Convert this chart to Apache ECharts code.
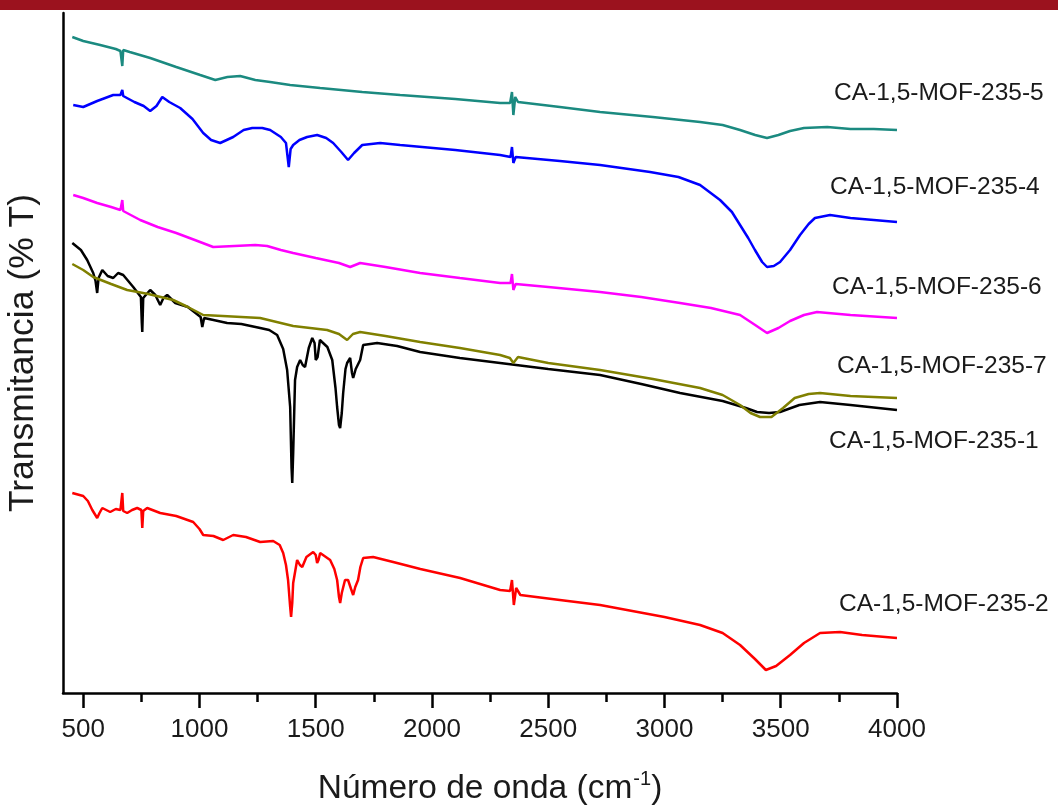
<!DOCTYPE html>
<html>
<head>
<meta charset="utf-8">
<script src="https://cdn.jsdelivr.net/npm/echarts@6/dist/echarts.min.js"></script>
<style>html,body{margin:0;padding:0;background:#fff;}#c{width:1058px;height:812px;}</style>
</head>
<body>
<div id="c"></div>
<script>
// wavenumber (cm-1), transmittance (arbitrary, offset) pairs
const s5 = [[453,65.6],[500,65.2],[573,64.8],[640,64.4],[660,64.2],[668,62.7],[672,64.3],[700,64.1],[788,63.5],[900,62.6],[1003,61.8],[1068,61.3],[1120,61.6],[1175,61.7],[1240,61.3],[1304,61.1],[1390,60.8],[1519,60.5],[1700,60.1],[1863,59.8],[2100,59.4],[2293,59.0],[2336,59.0],[2344,60.1],[2350,57.8],[2358,59.6],[2370,59.1],[2550,58.6],[2723,58.1],[2950,57.6],[3153,57.1],[3250,56.8],[3325,56.3],[3390,55.8],[3441,55.5],[3490,55.8],[3540,56.2],[3600,56.5],[3700,56.6],[3800,56.4],[3900,56.4],[4000,56.3]];
const s4 = [[457,58.8],[500,58.6],[560,59.2],[629,59.8],[660,59.8],[668,60.3],[672,59.7],[720,59.1],[760,58.7],[788,58.2],[815,58.7],[840,59.6],[870,59.1],[917,58.5],[970,57.4],[1016,56.0],[1050,55.3],[1089,55.0],[1145,55.6],[1190,56.3],[1227,56.5],[1270,56.5],[1304,56.3],[1350,55.6],[1372,55.0],[1384,52.6],[1392,54.4],[1403,54.8],[1430,55.3],[1463,55.6],[1506,55.8],[1545,55.5],[1575,55.0],[1610,54.1],[1639,53.3],[1665,54.0],[1700,54.8],[1777,55.0],[1863,54.8],[2100,54.3],[2293,53.8],[2338,53.6],[2344,54.6],[2350,53.0],[2360,53.6],[2550,53.2],[2723,52.8],[2938,52.1],[3060,51.6],[3153,50.8],[3239,49.3],[3290,48.1],[3325,46.8],[3360,45.5],[3389,44.3],[3420,43.1],[3441,42.6],[3470,42.7],[3497,43.1],[3540,44.3],[3583,45.8],[3620,46.9],[3647,47.5],[3712,47.8],[3800,47.5],[3900,47.3],[4000,47.1]];
const s6 = [[457,49.8],[500,49.5],[560,49.0],[620,48.6],[660,48.3],[668,49.3],[672,48.2],[745,47.3],[820,46.6],[900,46.0],[980,45.3],[1059,44.6],[1150,44.7],[1240,44.8],[1291,44.7],[1350,44.3],[1403,44.0],[1500,43.5],[1600,43.0],[1648,42.6],[1691,43.0],[1800,42.6],[1949,42.0],[2120,41.5],[2293,41.0],[2338,41.0],[2344,41.9],[2350,40.3],[2360,40.9],[2500,40.6],[2723,40.1],[2900,39.6],[3067,39.0],[3200,38.5],[3325,37.8],[3390,36.8],[3441,36.0],[3490,36.5],[3540,37.2],[3600,37.8],[3656,38.1],[3800,37.8],[4000,37.5]];
const s7 = [[453,42.9],[500,42.3],[543,41.6],[620,40.9],[689,40.3],[780,39.9],[887,39.3],[950,38.6],[1016,37.8],[1100,37.7],[1261,37.5],[1403,36.7],[1549,36.3],[1600,35.9],[1635,35.3],[1660,35.9],[1691,36.1],[1800,35.7],[1949,35.1],[2120,34.5],[2293,33.8],[2335,33.5],[2350,33.0],[2370,33.6],[2500,33.0],[2723,32.3],[2950,31.4],[3153,30.5],[3250,29.8],[3325,28.8],[3370,28.0],[3411,27.6],[3460,27.6],[3510,28.5],[3560,29.5],[3620,29.9],[3669,30.0],[3800,29.7],[4000,29.5]];
const s1 = [[453,45.0],[490,44.3],[517,43.3],[543,42.0],[553,41.2],[560,40.0],[566,41.5],[582,42.3],[605,41.7],[629,41.5],[650,42.0],[672,41.8],[690,41.3],[715,40.6],[748,39.6],[752,37.0],[754,36.1],[758,39.5],[788,40.3],[810,39.8],[831,38.8],[845,39.5],[861,39.8],[896,39.0],[950,38.6],[1005,37.6],[1012,36.6],[1020,37.5],[1060,37.3],[1119,37.0],[1180,36.9],[1261,36.5],[1300,36.3],[1334,35.8],[1360,34.4],[1377,32.3],[1390,28.6],[1396,22.5],[1399,21.0],[1403,24.0],[1411,31.3],[1420,32.6],[1433,33.3],[1444,32.8],[1454,32.6],[1470,34.5],[1485,35.5],[1495,35.0],[1500,33.3],[1508,33.6],[1518,35.3],[1527,35.1],[1550,34.6],[1571,33.3],[1585,30.5],[1592,28.6],[1600,26.8],[1605,26.5],[1612,28.0],[1618,30.0],[1628,32.4],[1635,33.0],[1648,33.5],[1656,32.0],[1661,31.5],[1672,32.4],[1691,33.3],[1704,34.8],[1764,35.0],[1850,34.7],[1949,34.1],[2120,33.5],[2293,33.0],[2500,32.4],[2723,31.8],[2900,30.9],[3067,30.0],[3250,29.2],[3350,28.5],[3398,28.1],[3450,28.0],[3497,28.1],[3580,28.8],[3669,29.1],[3800,28.8],[4000,28.3]];
const s2 = [[453,20.0],[500,19.7],[520,19.2],[539,18.3],[560,17.5],[570,18.0],[582,18.5],[616,18.1],[640,18.4],[660,18.3],[668,20.0],[672,18.2],[689,18.0],[710,18.3],[732,18.5],[750,18.3],[754,16.5],[758,18.2],[775,18.5],[831,18.0],[900,17.7],[973,17.1],[1000,16.4],[1016,15.8],[1060,15.7],[1102,15.3],[1145,15.8],[1200,15.6],[1261,15.1],[1317,15.2],[1345,14.8],[1360,14.0],[1372,12.8],[1381,11.3],[1390,8.6],[1394,7.6],[1399,9.0],[1403,11.0],[1420,13.3],[1432,12.8],[1442,12.6],[1460,13.6],[1489,14.1],[1500,13.8],[1506,13.0],[1512,13.3],[1519,14.0],[1562,13.3],[1580,12.4],[1592,11.3],[1600,9.6],[1605,9.0],[1612,10.0],[1626,11.3],[1639,11.3],[1652,10.4],[1661,9.8],[1670,10.6],[1682,11.3],[1692,12.6],[1704,13.5],[1747,13.6],[1833,13.1],[1950,12.4],[2121,11.5],[2293,10.3],[2336,10.2],[2344,11.3],[2352,8.8],[2362,10.5],[2380,9.8],[2550,9.3],[2723,8.8],[3000,7.6],[3153,6.8],[3250,6.0],[3325,4.8],[3389,3.4],[3436,2.3],[3480,2.7],[3540,3.8],[3600,5.0],[3669,6.0],[3755,6.1],[3850,5.8],[4000,5.5]];
const majorTicks = [500,1000,1500,2000,2500,3000,3500,4000];
const minorTicks = [750,1250,1750,2250,2750,3250,3750];
const seriesNames = ['CA-1,5-MOF-235-5','CA-1,5-MOF-235-4','CA-1,5-MOF-235-6','CA-1,5-MOF-235-7','CA-1,5-MOF-235-1','CA-1,5-MOF-235-2'];
const seriesColors = ['#1b8a80','#0000ff','#ff00ff','#808000','#000000','#ff0000'];
const seriesData = [s5,s4,s6,s7,s1,s2];
const labelPos = [[834,93],[830,187],[832,287],[837,366],[829,441],[839,604]];

const FONT = '"Liberation Sans", Arial, sans-serif';
const chart = echarts.init(document.getElementById('c'), null, {renderer:'canvas'});
const axisColor = '#000';
chart.setOption({
  animation: false,
  backgroundColor: '#fff',
  grid: {left: 63, right: 161, top: 13, bottom: 119, containLabel: false, outerBoundsMode: 'none'},
  xAxis: [{
    type: 'value', min: 413, max: 4000,
    axisLine: {show: true, onZero: false, lineStyle: {color: axisColor, width: 2.5}},
    axisTick: {show: true, customValues: majorTicks, length: 15, inside: false, lineStyle: {color: axisColor, width: 2.5}},
    axisLabel: {show: true, customValues: majorTicks, margin: 24, fontSize: 26, fontFamily: FONT, color: '#1a1a1a',
      formatter: v => String(v)},
    splitLine: {show: false},
    name: '{a|Número de onda (cm}{s|-1}{a|)}',
    nameLocation: 'middle', nameGap: 76,
    nameTextStyle: {padding: [0, 0, 0, 20], rich: {
      a: {fontSize: 33.5, fontFamily: FONT, color: '#1a1a1a', lineHeight: 40},
      s: {fontSize: 20, fontFamily: FONT, color: '#1a1a1a', lineHeight: 40, verticalAlign: 'top', padding: [0,0,0,1]}
    }}
  },{
    type: 'value', min: 413, max: 4000, position: 'bottom',
    axisLine: {show: false, onZero: false},
    axisTick: {show: true, customValues: minorTicks, length: 9, lineStyle: {color: axisColor, width: 2.5}},
    axisLabel: {show: false},
    splitLine: {show: false}
  }],
  yAxis: {
    type: 'value', min: 0, max: 68,
    axisLine: {show: true, onZero: false, lineStyle: {color: axisColor, width: 2.5}},
    axisTick: {show: false}, axisLabel: {show: false}, splitLine: {show: false},
    name: 'Transmitancia (% T)', nameLocation: 'middle', nameGap: 22, nameRotate: 90,
    nameTextStyle: {fontSize: 35.5, fontFamily: FONT, color: '#1a1a1a'}
  },
  series: seriesData.map((d, i) => ({
    name: seriesNames[i], type: 'line', data: d, xAxisIndex: 0, yAxisIndex: 0,
    showSymbol: false, symbol: 'none', smooth: false,
    lineStyle: {color: seriesColors[i], width: 2.5}, z: 10 - i
  })),
  graphic: [
    {type: 'rect', left: 0, top: 0, shape: {width: 1058, height: 10}, style: {fill: '#9b121e'}, z: 100}
  ].concat(seriesNames.map((n, i) => ({
    type: 'text', x: labelPos[i][0], y: labelPos[i][1],
    style: {text: n, fontSize: 24.5, fontFamily: FONT, fill: '#1a1a1a', textAlign: 'left', textVerticalAlign: 'middle'},
    z: 100
  })))
});
</script>
</body>
</html>
